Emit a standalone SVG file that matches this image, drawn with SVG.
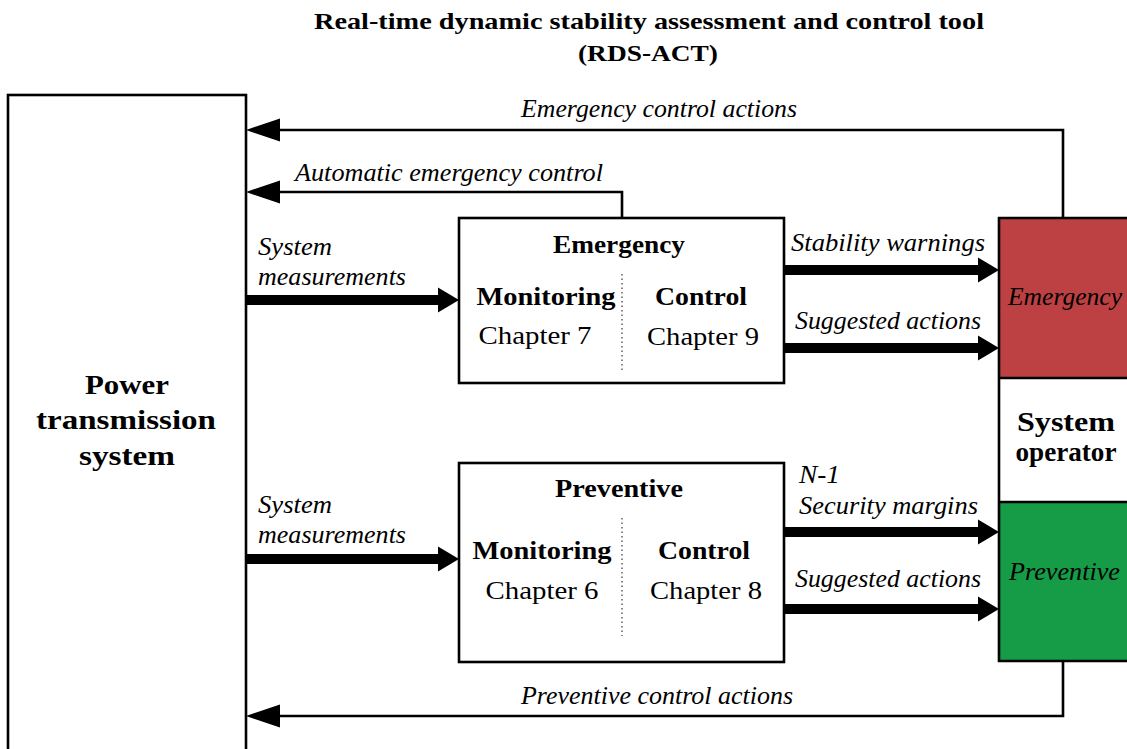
<svg xmlns="http://www.w3.org/2000/svg" width="1127" height="749" viewBox="0 0 1127 749">
  <style>
    text { font-family: "Liberation Serif", "DejaVu Serif", serif; fill: #000; }
    .title { font-size: 24px; font-weight: bold; text-anchor: middle; }
    .lbl { font-size: 25px; font-style: italic; }
    .head { font-size: 25px; font-weight: bold; text-anchor: middle; }
    .sub { font-size: 26px; text-anchor: middle; }
    .big { font-size: 28px; font-weight: bold; text-anchor: middle; }
    .box { fill: #fff; stroke: #000; stroke-width: 2.6; }
    .thin { fill: none; stroke: #000; stroke-width: 2.6; }
    .thick { fill: none; stroke: #000; stroke-width: 10; }
    .div { stroke: #555; stroke-width: 1.4; stroke-dasharray: 1.5 3; }
  </style>
  <defs>
    <marker id="thinHead" markerUnits="userSpaceOnUse" markerWidth="36" markerHeight="24" refX="0" refY="11.5" orient="auto" overflow="visible">
      <path d="M0,0 L34,11.5 L0,23 z" fill="#000"/>
    </marker>
    <marker id="thickHead" markerUnits="userSpaceOnUse" markerWidth="22" markerHeight="26" refX="0" refY="12.5" orient="auto" overflow="visible">
      <path d="M0,0 L21,12.5 L0,25 z" fill="#000"/>
    </marker>
  </defs>

  <rect width="1127" height="749" fill="#fff"/>

  <!-- title -->
  <text class="title" x="649" y="29" textLength="670" lengthAdjust="spacingAndGlyphs">Real-time dynamic stability assessment and control tool</text>
  <text class="title" x="648" y="61" textLength="140" lengthAdjust="spacingAndGlyphs">(RDS-ACT)</text>

  <!-- power transmission system -->
  <g id="power-system">
    <rect class="box" x="8" y="95" width="238" height="680"/>
    <text class="big" x="127" y="394" textLength="84" lengthAdjust="spacingAndGlyphs">Power</text>
    <text class="big" x="126" y="429" textLength="180" lengthAdjust="spacingAndGlyphs">transmission</text>
    <text class="big" x="127" y="465" textLength="96" lengthAdjust="spacingAndGlyphs">system</text>
  </g>

  <!-- emergency module -->
  <g id="emergency-module">
    <rect class="box" x="459" y="218" width="325" height="165"/>
    <text class="head" x="619" y="253" textLength="132" lengthAdjust="spacingAndGlyphs">Emergency</text>
    <line class="div" x1="622" y1="274" x2="622" y2="370"/>
    <text class="head" x="546" y="305" textLength="139" lengthAdjust="spacingAndGlyphs">Monitoring</text>
    <text class="head" x="701" y="305" textLength="92" lengthAdjust="spacingAndGlyphs">Control</text>
    <text class="sub" x="535" y="344" textLength="113" lengthAdjust="spacingAndGlyphs">Chapter 7</text>
    <text class="sub" x="703" y="345" textLength="112" lengthAdjust="spacingAndGlyphs">Chapter 9</text>
  </g>

  <!-- preventive module -->
  <g id="preventive-module">
    <rect class="box" x="459" y="463" width="325" height="199"/>
    <text class="head" x="619" y="497" textLength="128" lengthAdjust="spacingAndGlyphs">Preventive</text>
    <line class="div" x1="622" y1="518" x2="622" y2="636"/>
    <text class="head" x="542" y="559" textLength="139" lengthAdjust="spacingAndGlyphs">Monitoring</text>
    <text class="head" x="704" y="559" textLength="92" lengthAdjust="spacingAndGlyphs">Control</text>
    <text class="sub" x="542" y="599" textLength="113" lengthAdjust="spacingAndGlyphs">Chapter 6</text>
    <text class="sub" x="706" y="599" textLength="112" lengthAdjust="spacingAndGlyphs">Chapter 8</text>
  </g>

  <!-- system operator -->
  <g id="system-operator">
    <rect x="999" y="218" width="140" height="160" fill="#bd4043"/>
    <rect x="999" y="378" width="140" height="124" fill="#fff"/>
    <rect x="999" y="502" width="140" height="159" fill="#169b47"/>
    <path class="thin" d="M1140,218 H999 V661 H1140 M999,378 H1140 M999,502 H1140" stroke-width="2.2"/>
    <text class="lbl" x="1008" y="305" textLength="114" lengthAdjust="spacingAndGlyphs">Emergency</text>
    <text class="big" x="1066" y="431" font-size="26" textLength="98" lengthAdjust="spacingAndGlyphs">System</text>
    <text class="big" x="1066" y="461" font-size="26" textLength="101" lengthAdjust="spacingAndGlyphs">operator</text>
    <text class="lbl" x="1009" y="580" textLength="111" lengthAdjust="spacingAndGlyphs">Preventive</text>
  </g>

  <!-- connectors -->
  <g id="connectors">
    <path class="thin" d="M1063,218 V130 H280" marker-end="url(#thinHead)"/>
    <path class="thin" d="M622,218 V192 H280" marker-end="url(#thinHead)"/>
    <path class="thin" d="M1063,661 V716 H280" marker-end="url(#thinHead)"/>

    <path class="thick" d="M246,300 H438" marker-end="url(#thickHead)"/>
    <path class="thick" d="M246,559 H438" marker-end="url(#thickHead)"/>
    <path class="thick" d="M784,270 H978" marker-end="url(#thickHead)"/>
    <path class="thick" d="M784,348 H978" marker-end="url(#thickHead)"/>
    <path class="thick" d="M784,532 H978" marker-end="url(#thickHead)"/>
    <path class="thick" d="M784,609 H978" marker-end="url(#thickHead)"/>
  </g>

  <!-- connector labels -->
  <g id="connector-labels">
    <text class="lbl" x="521" y="117" textLength="276" lengthAdjust="spacingAndGlyphs">Emergency control actions</text>
    <text class="lbl" x="295" y="181" textLength="308" lengthAdjust="spacingAndGlyphs">Automatic emergency control</text>
    <text class="lbl" x="258" y="255" textLength="74" lengthAdjust="spacingAndGlyphs">System</text>
    <text class="lbl" x="258" y="285" textLength="148" lengthAdjust="spacingAndGlyphs">measurements</text>
    <text class="lbl" x="791" y="251" textLength="194" lengthAdjust="spacingAndGlyphs">Stability warnings</text>
    <text class="lbl" x="795" y="329" textLength="186" lengthAdjust="spacingAndGlyphs">Suggested actions</text>
    <text class="lbl" x="258" y="513" textLength="74" lengthAdjust="spacingAndGlyphs">System</text>
    <text class="lbl" x="258" y="543" textLength="148" lengthAdjust="spacingAndGlyphs">measurements</text>
    <text class="lbl" x="799" y="483" textLength="41" lengthAdjust="spacingAndGlyphs">N-1</text>
    <text class="lbl" x="799" y="514" textLength="179" lengthAdjust="spacingAndGlyphs">Security margins</text>
    <text class="lbl" x="795" y="587" textLength="186" lengthAdjust="spacingAndGlyphs">Suggested actions</text>
    <text class="lbl" x="521" y="704" textLength="272" lengthAdjust="spacingAndGlyphs">Preventive control actions</text>
  </g>
</svg>
